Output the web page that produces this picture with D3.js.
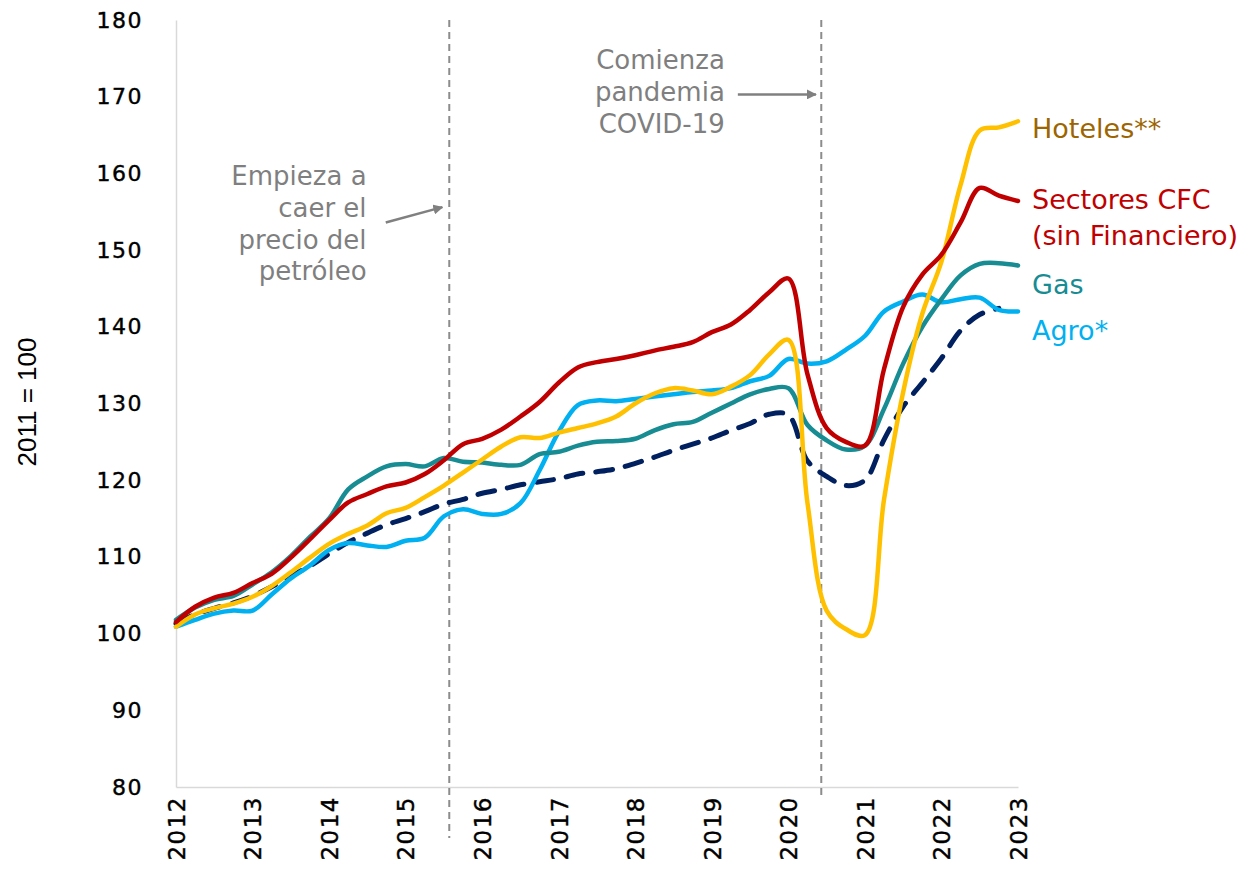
<!DOCTYPE html>
<html>
<head>
  <meta charset="utf-8">
  <title>Sectores CFC</title>
  <script src="https://cdn.jsdelivr.net/npm/d3@7"></script>
  <style>
    body { margin: 0; background: #fff; }
    svg { font-family: "DejaVu Sans", "Noto Sans", sans-serif; }
    .axis path { stroke: #d9d9d9; stroke-width: 1.5px; }
    .axis line { display: none; }
    .axis text { fill: #000; font-size: 22px; letter-spacing: 1.5px; stroke: #000; stroke-width: 0.4px; }
    .note { fill: #7f7f7f; font-size: 26px; }
    .serie { fill: none; stroke-linejoin: round; stroke-linecap: round; }
  </style>
</head>
<body>
  <div id="chart-area"></div>
  <script>
    // quarterly index values (2011 = 100), 2012Q1 .. 2023Q1
    const startYear = 2012;
    const years = [2012, 2013, 2014, 2015, 2016, 2017, 2018, 2019, 2020, 2021, 2022, 2023];
    const yTicks = [80, 90, 100, 110, 120, 130, 140, 150, 160, 170, 180];

    const hoteles = [100.9, 102.5, 103.3, 103.9, 104.8, 106.2, 108.0, 109.9, 111.7, 113.0, 114.1, 115.7,
      116.4, 117.8, 119.3, 121.0, 122.7, 124.4, 125.6, 125.5, 126.2, 126.8, 127.4, 128.3,
      130.0, 131.3, 132.0, 131.7, 131.2, 132.2, 133.7, 136.4, 138.3, 117.0, 103.0, 100.6,
      99.8, 117.5, 131.5, 141.7, 148.5, 158.5, 165.6, 166.0, 166.8];
    const sectoresCFC = [101.5, 103.5, 104.7, 105.3, 106.6, 107.8, 109.9, 112.3, 114.8, 117.1, 118.2, 119.2,
      119.7, 120.8, 122.6, 124.7, 125.4, 126.6, 128.3, 130.2, 132.7, 134.7, 135.4, 135.8,
      136.3, 136.9, 137.4, 138.0, 139.3, 140.3, 142.2, 144.5, 146.3, 133.8, 126.8, 125.0,
      124.5, 134.5, 142.6, 146.8, 149.4, 153.6, 158.1, 157.1, 156.4];
    const gas = [101.8, 103.4, 104.4, 104.9, 106.4, 108.0, 110.1, 112.6, 115.0, 118.8, 120.5, 121.8,
      122.1, 121.8, 122.9, 122.4, 122.3, 122.0, 122.0, 123.4, 123.7, 124.5, 125.0, 125.1,
      125.4, 126.5, 127.3, 127.6, 128.8, 130.0, 131.2, 131.9, 132.0, 127.2, 125.2, 124.0,
      124.5, 129.3, 135.2, 140.0, 143.6, 146.7, 148.2, 148.3, 148.0];
    const agro = [100.9, 101.8, 102.6, 103.0, 103.0, 105.1, 107.2, 108.9, 110.9, 111.8, 111.5, 111.3,
      112.1, 112.5, 115.3, 116.2, 115.6, 115.6, 117.0, 121.3, 126.3, 129.8, 130.4, 130.3,
      130.6, 130.9, 131.2, 131.5, 131.7, 132.0, 132.9, 133.6, 135.8, 135.2, 135.5, 137.0,
      138.8, 142.0, 143.3, 144.2, 143.2, 143.6, 143.8, 142.2, 142.0];
    const total = [101.3, 102.5, 103.3, 104.0, 104.9, 106.1, 107.5, 108.8, 110.4, 111.9, 113.1, 114.2,
      115.0, 115.9, 116.9, 117.5, 118.3, 118.8, 119.4, 119.8, 120.2, 120.8, 121.1, 121.5,
      122.2, 123.0, 123.9, 124.7, 125.5, 126.5, 127.4, 128.6, 128.5, 122.5, 120.5, 119.3,
      120.0, 125.3, 129.6, 132.7, 135.9, 139.5, 141.6, 142.4];

    const series = [
      { name: "total", values: total, color: "#002060", dash: "17,13" },
      { name: "agro", values: agro, color: "#00B0F0" },
      { name: "gas", values: gas, color: "#178C93" },
      { name: "hoteles", values: hoteles, color: "#FFC000" },
      { name: "sectores", values: sectoresCFC, color: "#C00000" }
    ];

    const labels = [
      { lines: ["Hoteles**"], value: 165.9, color: "#9C6500" },
      { lines: ["Sectores CFC", "(sin Financiero)"], value: 156.6, color: "#C00000" },
      { lines: ["Gas"], value: 145.6, color: "#178C93" },
      { lines: ["Agro*"], value: 139.5, color: "#00B0F0" }
    ];

    const width = 1258;
    const height = 880;
    const margin = { top: 20, right: 240, bottom: 93, left: 176 };

    const svg = d3.select("#chart-area")
      .append("svg")
        .attr("width", width)
        .attr("height", height);

    const x = d3.scaleLinear()
      .domain([2012, 2023])
      .range([margin.left, width - margin.right]);

    const y = d3.scaleLinear()
      .domain([80, 180])
      .range([height - margin.bottom, margin.top]);

    // axes
    svg.append("g")
      .attr("class", "axis")
      .attr("transform", `translate(${margin.left},0)`)
      .call(d3.axisLeft(y).tickValues(yTicks).tickSize(0).tickPadding(33))
      .attr("font-family", null)
      .attr("font-size", null);

    svg.append("g")
      .attr("class", "axis")
      .attr("transform", `translate(0,${height - margin.bottom})`)
      .call(d3.axisBottom(x).tickValues(years).tickFormat(d3.format("d")).tickSize(0))
      .attr("font-family", null)
      .attr("font-size", null)
      .selectAll("text")
        .style("font-size", "23px")
        .attr("text-anchor", "end")
        .attr("dy", "0.36em")
        .attr("transform", "rotate(-90)")
        .attr("x", -9)
        .attr("y", 0);

    svg.append("text")
      .attr("transform", `translate(36,${y(130.2)}) rotate(-90)`)
      .attr("text-anchor", "middle")
      .attr("font-family", "'Liberation Sans Narrow', 'Liberation Sans', sans-serif")
      .attr("font-size", 26)
      .text("2011 = 100");

    // event markers
    const events = [
      { date: 2015.57, bottom: 838 },
      { date: 2020.43, bottom: 800 }
    ];
    svg.selectAll(".event")
      .data(events)
      .join("line")
        .attr("class", "event")
        .attr("x1", d => x(d.date))
        .attr("x2", d => x(d.date))
        .attr("y1", margin.top)
        .attr("y2", d => d.bottom)
        .attr("stroke", "#8c8c8c")
        .attr("stroke-width", 2)
        .attr("stroke-dasharray", "7,5");

    // lines
    const line = d3.line()
      .x((d, i) => x(startYear + i / 4))
      .y(d => y(d))
      .curve(d3.curveCatmullRom.alpha(0.5));

    svg.selectAll(".serie")
      .data(series)
      .join("path")
        .attr("class", "serie")
        .attr("d", d => line(d.values))
        .attr("stroke", d => d.color)
        .attr("stroke-width", d => d.dash ? 5 : 4.5)
        .attr("stroke-dasharray", d => d.dash || null);

    // labels at the right
    const lab = svg.selectAll(".lab")
      .data(labels)
      .join("text")
        .attr("class", "lab")
        .attr("x", x(2023) + 14)
        .attr("y", d => y(d.value))
        .attr("fill", d => d.color)
        .attr("font-size", 27);
    lab.selectAll("tspan")
      .data(d => d.lines)
      .join("tspan")
        .attr("x", x(2023) + 14)
        .attr("dy", (d, i) => i === 0 ? "0.36em" : "1.33em")
        .text(d => d);

    // annotations
    svg.append("defs").append("marker")
      .attr("id", "arrow")
      .attr("viewBox", "0 0 10 10")
      .attr("refX", 9)
      .attr("refY", 5)
      .attr("markerWidth", 4)
      .attr("markerHeight", 4)
      .attr("orient", "auto")
      .append("path")
        .attr("d", "M0,0L10,5L0,10z")
        .attr("fill", "#808080");

    const notes = [
      { lines: ["Empieza a", "caer el", "precio del", "petróleo"], xr: 2014.49, top: 159.7,
        arrow: [[2014.74, 153.6], [2015.48, 155.6]] },
      { lines: ["Comienza", "pandemia", "COVID-19"], xr: 2019.17, top: 174.8,
        arrow: [[2019.34, 170.3], [2020.36, 170.3]] }
    ];

    notes.forEach(n => {
      const t = svg.append("text")
        .attr("class", "note")
        .attr("text-anchor", "end")
        .attr("y", y(n.top));
      t.selectAll("tspan")
        .data(n.lines)
        .join("tspan")
          .attr("x", x(n.xr))
          .attr("dy", (d, i) => i === 0 ? "0.36em" : "1.22em")
          .text(d => d);

      svg.append("line")
        .attr("x1", x(n.arrow[0][0]))
        .attr("y1", y(n.arrow[0][1]))
        .attr("x2", x(n.arrow[1][0]))
        .attr("y2", y(n.arrow[1][1]))
        .attr("stroke", "#808080")
        .attr("stroke-width", 2.5)
        .attr("marker-end", "url(#arrow)");
    });
  </script>
</body>
</html>
